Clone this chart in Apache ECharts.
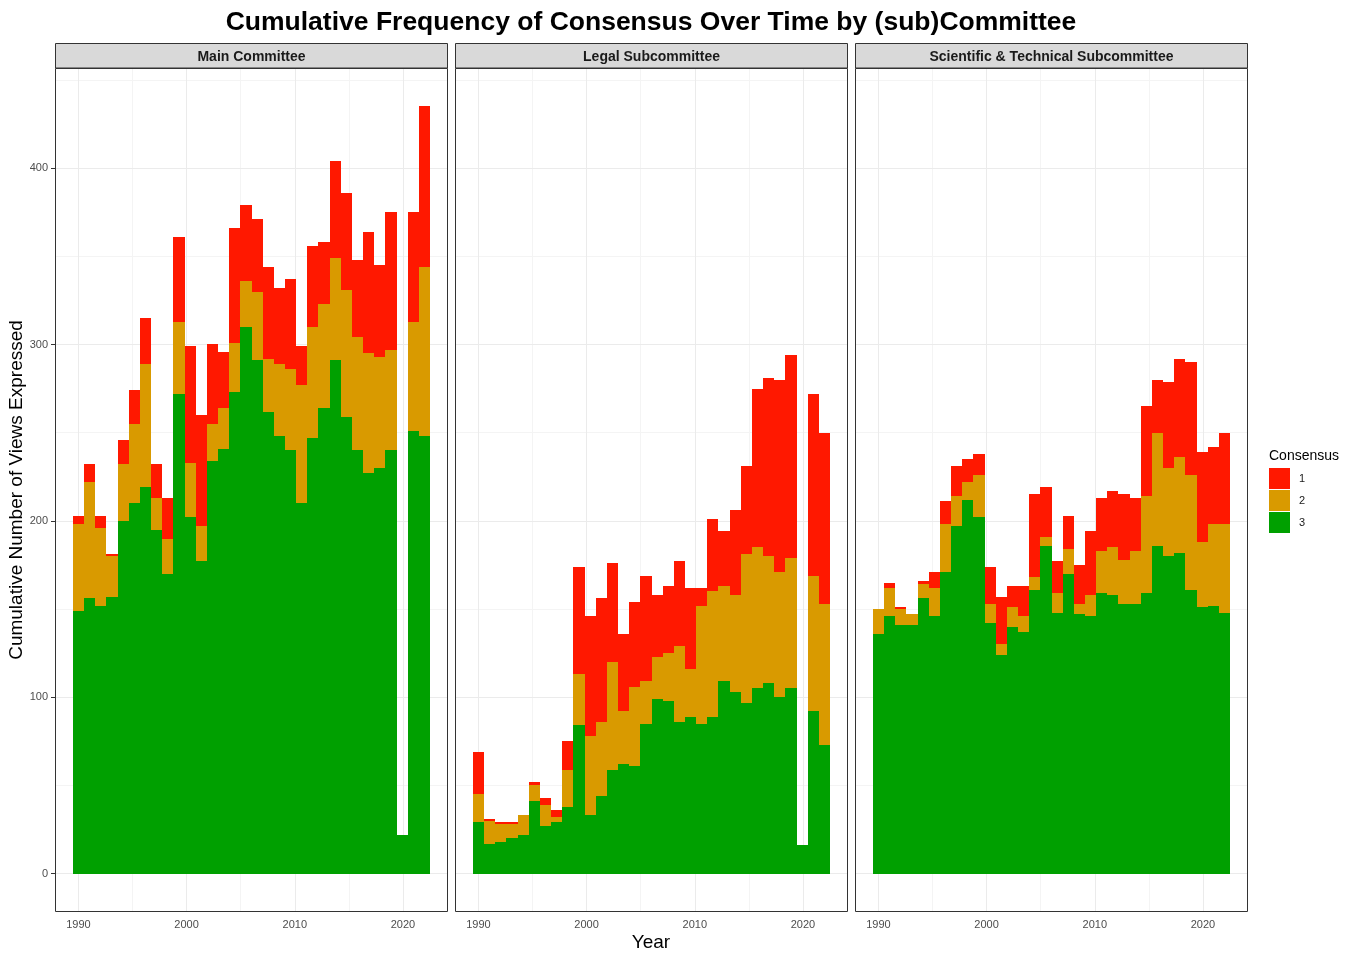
<!DOCTYPE html>
<html>
<head>
<meta charset="utf-8">
<title>Cumulative Frequency of Consensus Over Time by (sub)Committee</title>
<script src="https://cdn.jsdelivr.net/npm/echarts@6/dist/echarts.min.js"></script>
<style>
  html, body { margin: 0; padding: 0; background: #fff; }
  #chart { width: 1356px; height: 954px; }
</style>
</head>
<body>
<div id="chart"></div>
<script>
// 32 equal bins spread over the years 1990 - 2022
const firstYear = 1990;
const lastYear = 2022;
const binCount = 32;

const panels = ['Main Committee', 'Legal Subcommittee', 'Scientific & Technical Subcommittee'];
const consensusLevels = ['1', '2', '3'];

// views expressed per bin, by consensus level
const mainC3 = [149, 156, 152, 157, 200, 210, 219, 195, 170, 272, 202, 177, 234, 241, 273, 310,
  291, 262, 248, 240, 210, 247, 264, 291, 259, 240, 227, 230, 240, 22, 251, 248];
const mainC2 = [49, 66, 44, 23, 32, 45, 70, 18, 20, 41, 31, 20, 21, 23, 28, 26,
  39, 30, 41, 46, 67, 63, 59, 58, 72, 64, 68, 63, 57, 0, 62, 96];
const mainC1 = [5, 10, 7, 1, 14, 19, 26, 19, 23, 48, 66, 63, 45, 32, 65, 43,
  41, 52, 43, 51, 22, 46, 35, 55, 55, 44, 69, 52, 78, 0, 62, 91];

const legalC3 = [29, 17, 18, 20, 22, 41, 27, 29, 38, 84, 33, 44, 59, 62, 61, 85,
  99, 98, 86, 89, 85, 89, 109, 103, 97, 105, 108, 100, 105, 16, 92, 73];
const legalC2 = [16, 13, 10, 8, 11, 9, 12, 3, 21, 29, 45, 42, 61, 30, 45, 24,
  24, 27, 43, 27, 67, 71, 54, 55, 84, 80, 72, 71, 74, 0, 77, 80];
const legalC1 = [24, 1, 1, 1, 0, 2, 4, 4, 16, 61, 68, 70, 56, 44, 48, 60,
  35, 38, 48, 46, 10, 41, 31, 48, 50, 90, 101, 109, 115, 0, 103, 97];

const sciC3 = [136, 146, 141, 141, 156, 146, 171, 197, 212, 202, 142, 124, 140, 137, 161, 186,
  148, 170, 147, 146, 159, 158, 153, 153, 159, 186, 180, 182, 161, 151, 152, 148];
const sciC2 = [14, 16, 9, 6, 8, 16, 27, 17, 10, 24, 11, 6, 11, 9, 7, 5,
  11, 14, 6, 12, 24, 27, 25, 30, 55, 64, 50, 54, 65, 37, 46, 50];
const sciC1 = [0, 3, 1, 0, 2, 9, 13, 17, 13, 12, 21, 27, 12, 17, 47, 28,
  18, 19, 22, 36, 30, 32, 37, 30, 51, 30, 49, 56, 64, 51, 44, 52];

const xTicks = [1990, 2000, 2010, 2020];
const xMinorTicks = [1995, 2005, 2015];
const yTicks = [0, 100, 200, 300, 400];
const yMinorTicks = [50, 150, 250, 350, 450];

const colors = { '1': '#ff1800', '2': '#d99a00', '3': '#00a000' };
const font = '"Liberation Sans", Arial, sans-serif';

const panelValues = [
  { '3': mainC3, '2': mainC2, '1': mainC1 },
  { '3': legalC3, '2': legalC2, '1': legalC1 },
  { '3': sciC3, '2': sciC2, '1': sciC1 },
];

const binWidth = (lastYear - firstYear) / (binCount - 1);
const centres = Array.from({ length: binCount }, (_, i) => firstYear + i * binWidth);

// ggplot style 5% expansion
const xSpan = lastYear - firstYear + binWidth;
const xMin = firstYear - binWidth / 2 - 0.05 * xSpan;
const xMax = lastYear + binWidth / 2 + 0.05 * xSpan;
const maxTotal = Math.max(...panelValues.flatMap(p => p['3'].map((v, i) => v + p['2'][i] + p['1'][i])));
const yMin = -0.05 * maxTotal;
const yMax = maxTotal * 1.05;

const panelLeft = [55, 455, 855];
const panelTop = 68;
const panelWidth = 393;
const panelHeight = 844;

const renderBar = (params, api) => {
  const x = api.value(0);
  const a = api.coord([x - binWidth / 2, api.value(2)]);
  const b = api.coord([x + binWidth / 2, api.value(1)]);
  const x0 = Math.round(a[0]);
  const x1 = Math.round(b[0]);
  const y0 = Math.round(a[1]);
  const y1 = Math.round(b[1]);
  if (y1 - y0 <= 0) return null;
  return {
    type: 'rect',
    shape: { x: x0, y: y0, width: x1 - x0, height: y1 - y0 },
    style: { fill: api.visual('color') },
  };
};

const major = { color: '#ebebeb', width: 1, type: 'solid' };
const minor = { color: '#f4f4f4', width: 1, type: 'solid' };

const series = [];
panelValues.forEach((values, p) => {
  series.push({
    type: 'line',
    xAxisIndex: p,
    yAxisIndex: p,
    data: [],
    silent: true,
    markLine: {
      silent: true,
      z: 1,
      symbol: 'none',
      animation: false,
      label: { show: false },
      data: [
        ...xMinorTicks.map(v => ({ xAxis: v, lineStyle: minor })),
        ...yMinorTicks.map(v => ({ yAxis: v, lineStyle: minor })),
        ...xTicks.map(v => ({ xAxis: v, lineStyle: major })),
        ...yTicks.map(v => ({ yAxis: v, lineStyle: major })),
      ],
    },
  });
  const base = centres.map(() => 0);
  ['3', '2', '1'].forEach(level => {
    const data = centres.map((x, i) => {
      const row = [x, base[i], base[i] + values[level][i]];
      base[i] += values[level][i];
      return row;
    });
    series.push({
      type: 'custom',
      name: level,
      xAxisIndex: p,
      yAxisIndex: p,
      z: 2,
      itemStyle: { color: colors[level] },
      encode: { x: 0, y: [1, 2] },
      renderItem: renderBar,
      data,
    });
  });
});

const graphic = [
  {
    type: 'text', x: 651, y: 23, z: 10,
    style: {
      text: 'Cumulative Frequency of Consensus Over Time by (sub)Committee',
      font: 'bold 26.5px ' + font, fill: '#000',
      align: 'center', verticalAlign: 'middle', textAlign: 'center', textVerticalAlign: 'middle',
    },
  },
  {
    type: 'text', x: 651, y: 943, z: 10,
    style: {
      text: 'Year', font: '19px ' + font, fill: '#000',
      align: 'center', verticalAlign: 'middle', textAlign: 'center', textVerticalAlign: 'middle',
    },
  },
  {
    type: 'text', x: 17, y: 490, rotation: Math.PI / 2, z: 10,
    style: {
      text: 'Cumulative Number of Views Expressed', font: '19px ' + font, fill: '#000',
      align: 'center', verticalAlign: 'middle', textAlign: 'center', textVerticalAlign: 'middle',
    },
  },
  {
    type: 'text', x: 1269, y: 456, z: 10,
    style: {
      text: 'Consensus', font: '14px ' + font, fill: '#000',
      align: 'left', verticalAlign: 'middle', textAlign: 'left', textVerticalAlign: 'middle',
    },
  },
];

panels.forEach((name, p) => {
  const left = panelLeft[p];
  graphic.push({
    type: 'rect', z: 10,
    shape: { x: left + 0.5, y: 43.5, width: panelWidth - 1, height: 24.5 },
    style: { fill: '#d9d9d9', stroke: '#333', lineWidth: 1 },
  });
  graphic.push({
    type: 'text', x: left + panelWidth / 2, y: 57, z: 11,
    style: {
      text: name, font: 'bold 14px ' + font, fill: '#1a1a1a',
      align: 'center', verticalAlign: 'middle', textAlign: 'center', textVerticalAlign: 'middle',
    },
  });
  graphic.push({
    type: 'rect', z: 10,
    shape: { x: left + 0.5, y: panelTop + 0.5, width: panelWidth - 1, height: panelHeight - 1 },
    style: { fill: 'transparent', stroke: '#333', lineWidth: 1 },
  });
});

const chart = echarts.init(document.getElementById('chart'));
chart.setOption({
  animation: false,
  backgroundColor: '#fff',
  textStyle: { fontFamily: font },
  grid: panelLeft.map(left => ({
    left, top: panelTop, width: panelWidth, height: panelHeight, show: false,
  })),
  xAxis: panelLeft.map((_, p) => ({
    type: 'value',
    gridIndex: p,
    min: xMin,
    max: xMax,
    axisLine: { show: false },
    splitLine: { show: false },
    axisTick: { show: true, length: 4, customValues: xTicks, lineStyle: { color: '#333' } },
    axisLabel: {
      customValues: xTicks, margin: 7, fontSize: 11, color: '#4d4d4d', fontFamily: font,
      formatter: v => String(Math.round(v)),
    },
  })),
  yAxis: panelLeft.map((_, p) => ({
    type: 'value',
    gridIndex: p,
    min: yMin,
    max: yMax,
    axisLine: { show: false },
    splitLine: { show: false },
    axisTick: { show: p === 0, length: 4, customValues: yTicks, lineStyle: { color: '#333' } },
    axisLabel: {
      show: p === 0, customValues: yTicks, margin: 7, fontSize: 11, color: '#4d4d4d', fontFamily: font,
      formatter: v => String(Math.round(v)),
    },
  })),
  legend: {
    data: consensusLevels.map(name => ({ name, icon: 'rect' })),
    orient: 'vertical',
    left: 1269,
    top: 468,
    padding: 0,
    itemWidth: 21,
    itemHeight: 21,
    itemGap: 1,
    selectedMode: false,
    textStyle: { fontSize: 11, color: '#1a1a1a', fontFamily: font, padding: [0, 0, 0, 4] },
  },
  graphic,
  series,
});
</script>
</body>
</html>
